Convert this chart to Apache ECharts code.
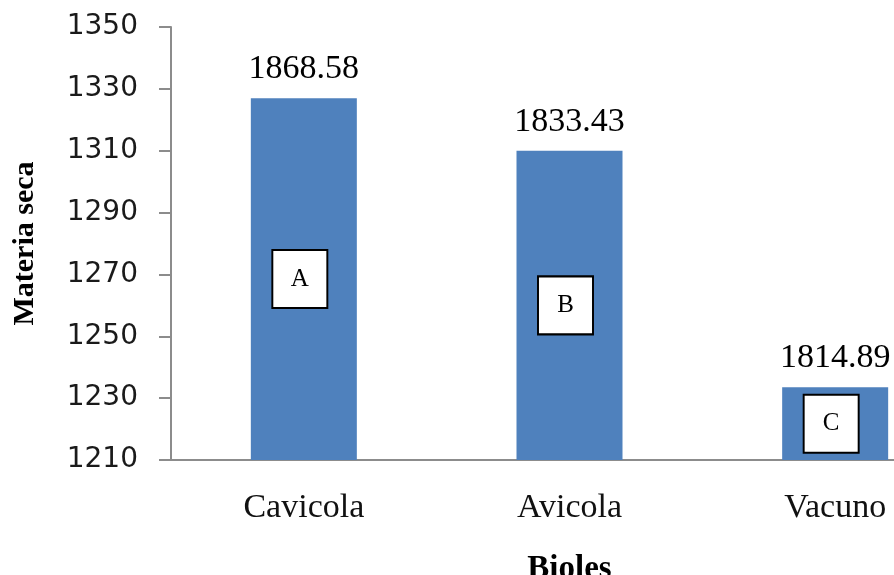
<!DOCTYPE html>
<html>
<head>
<meta charset="utf-8">
<title>Materia seca por biol</title>
<script src="https://cdn.jsdelivr.net/npm/echarts@6/dist/echarts.min.js"></script>
<style>
  html, body { margin: 0; padding: 0; background: #ffffff; }
  #chart { width: 894px; height: 575px; }
</style>
</head>
<body>
<div id="chart"></div>
<script>
// Biol types on the category axis
var categories = ['Cavicola', 'Avicola', 'Vacuno'];
// Bar heights on the dry-matter axis
var dryMatter = [1327, 1310, 1233.5];
// Totals printed above each bar
var reportedValues = ['1868.58', '1833.43', '1814.89'];
// Significance groups shown inside each bar
var groupLetters = ['A', 'B', 'C'];
// Value axis range and step
var yMin = 1210, yMax = 1350, yStep = 20;

var serif = '"Liberation Serif", "Times New Roman", serif';
var axisGray = '#8c8c8c';

// Letter boxes sit half-way up each bar
var letterPoints = categories.map(function (c, i) {
  return {
    coord: [c, (yMin + dryMatter[i]) / 2],
    value: groupLetters[i]
  };
});

var chart = echarts.init(document.getElementById('chart'), null, { renderer: 'canvas' });
chart.setOption({
  animation: false,
  backgroundColor: '#ffffff',
  grid: { left: 171, top: 27, width: 797, height: 433, containLabel: false, outerBoundsMode: 'none' },
  xAxis: {
    type: 'category',
    data: categories,
    name: 'Bioles',
    nameLocation: 'middle',
    nameGap: 93,
    nameTextStyle: { fontFamily: serif, fontSize: 33, fontWeight: 'bold', color: '#000' },
    axisLine: { lineStyle: { color: axisGray, width: 2 } },
    axisTick: { length: 10, lineStyle: { color: axisGray, width: 2 } },
    axisLabel: { margin: 31, fontFamily: serif, fontSize: 34, color: '#111' }
  },
  yAxis: {
    type: 'value',
    min: yMin,
    max: yMax,
    interval: yStep,
    name: 'Materia seca',
    nameLocation: 'middle',
    nameGap: 131,
    nameTextStyle: { fontFamily: serif, fontSize: 30, fontWeight: 'bold', color: '#000' },
    splitLine: { show: false },
    axisLine: { show: true, lineStyle: { color: axisGray, width: 2 } },
    axisTick: { show: true, length: 12, lineStyle: { color: axisGray, width: 2 } },
    axisLabel: {
      margin: 33,
      fontFamily: '"DejaVu Sans", Verdana, sans-serif',
      fontSize: 28,
      color: '#1a1a1a',
      formatter: function (v) { return String(v); }
    }
  },
  series: [{
    type: 'bar',
    data: dryMatter,
    barWidth: 106,
    itemStyle: { color: '#4F81BD' },
    label: {
      show: true,
      position: 'top',
      distance: 12,
      fontFamily: serif,
      fontSize: 34,
      color: '#000',
      formatter: function (p) { return reportedValues[p.dataIndex]; }
    },
    markPoint: {
      symbol: 'rect',
      symbolSize: [55, 58],
      symbolOffset: [-4, 0],
      itemStyle: { color: '#ffffff', borderColor: '#000000', borderWidth: 2 },
      label: {
        show: true,
        position: 'inside',
        fontFamily: serif,
        fontSize: 25,
        color: '#000',
        formatter: function (p) { return p.value; }
      },
      data: letterPoints
    }
  }]
});
</script>
</body>
</html>
